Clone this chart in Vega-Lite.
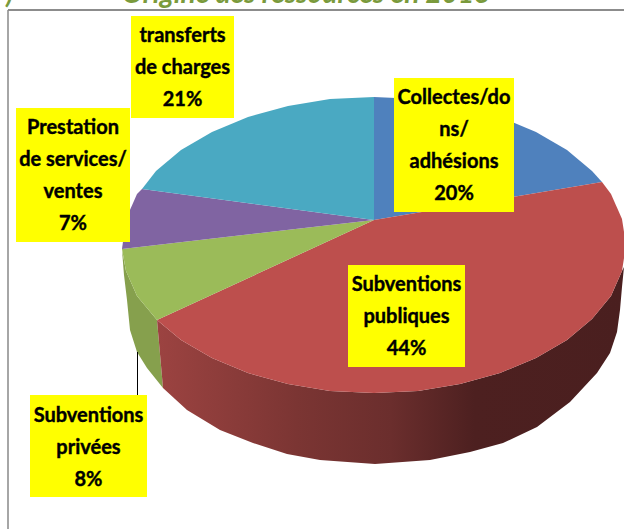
{"$schema":"https://vega.github.io/schema/vega-lite/v6.json","width":624,"height":529,"padding":0,"autosize":"none","background":"#ffffff","config":{"view":{"stroke":null}},
"datasets":{
"walls":[
{"part":"green","x":122,"y":250},{"part":"green","x":124,"y":275},{"part":"green","x":127,"y":300},{"part":"green","x":130,"y":330},{"part":"green","x":137,"y":352},{"part":"green","x":147,"y":368},{"part":"green","x":163,"y":388},{"part":"green","x":157,"y":320},{"part":"green","x":137,"y":296},{"part":"green","x":126,"y":271}],
"redwall":[
{"x":157,"y":320},{"x":163,"y":388},{"x":187,"y":410},{"x":220,"y":430},{"x":253,"y":443},{"x":287,"y":454},{"x":320,"y":460},{"x":375,"y":464},{"x":430,"y":460},{"x":470,"y":452},{"x":503,"y":443},{"x":537,"y":427},{"x":570,"y":402},{"x":597,"y":373},{"x":610,"y":353},{"x":617,"y":332},{"x":620,"y":310},{"x":622,"y":287},{"x":624,"y":267},{"x":622,"y":271},{"x":611,"y":296},{"x":592,"y":319},{"x":567,"y":340},{"x":536,"y":358},{"x":500,"y":373},{"x":460,"y":384},{"x":418,"y":391},{"x":374,"y":393},{"x":330,"y":391},{"x":288,"y":384},{"x":248,"y":373},{"x":212,"y":358},{"x":181,"y":340}],
"faces":[
{"part":"Collectes","x":374,"y":220},{"part":"Collectes","x":374,"y":97},{"part":"Collectes","x":418,"y":99},{"part":"Collectes","x":460,"y":106},{"part":"Collectes","x":500,"y":117},{"part":"Collectes","x":536,"y":132},{"part":"Collectes","x":567,"y":150},{"part":"Collectes","x":592,"y":171},{"part":"Collectes","x":602,"y":182},
{"part":"Publiques","x":374,"y":220},{"part":"Publiques","x":602,"y":182},{"part":"Publiques","x":611,"y":194},{"part":"Publiques","x":622,"y":219},{"part":"Publiques","x":626,"y":245},{"part":"Publiques","x":622,"y":271},{"part":"Publiques","x":611,"y":296},{"part":"Publiques","x":592,"y":319},{"part":"Publiques","x":567,"y":340},{"part":"Publiques","x":536,"y":358},{"part":"Publiques","x":500,"y":373},{"part":"Publiques","x":460,"y":384},{"part":"Publiques","x":418,"y":391},{"part":"Publiques","x":374,"y":393},{"part":"Publiques","x":330,"y":391},{"part":"Publiques","x":288,"y":384},{"part":"Publiques","x":248,"y":373},{"part":"Publiques","x":212,"y":358},{"part":"Publiques","x":181,"y":340},{"part":"Publiques","x":157,"y":320},
{"part":"Privees","x":374,"y":220},{"part":"Privees","x":157,"y":320},{"part":"Privees","x":137,"y":296},{"part":"Privees","x":126,"y":271},{"part":"Privees","x":122,"y":249},
{"part":"Prestation","x":374,"y":220},{"part":"Prestation","x":122,"y":249},{"part":"Prestation","x":126,"y":219},{"part":"Prestation","x":137,"y":194},{"part":"Prestation","x":142,"y":189},
{"part":"Transferts","x":374,"y":220},{"part":"Transferts","x":142,"y":189},{"part":"Transferts","x":156,"y":171},{"part":"Transferts","x":181,"y":150},{"part":"Transferts","x":212,"y":132},{"part":"Transferts","x":248,"y":117},{"part":"Transferts","x":288,"y":106},{"part":"Transferts","x":330,"y":99},{"part":"Transferts","x":374,"y":97}],
"labels":[
{"text":"transferts\nde charges\n21%","x1":131,"x2":234,"y1":16,"y2":118,"cx":182.5,"ty":36},
{"text":"Prestation\nde services/\nventes\n7%","x1":16,"x2":130,"y1":108,"y2":242,"cx":73,"ty":128},
{"text":"Collectes/do\nns/\nadhésions\n20%","x1":394,"x2":514,"y1":78,"y2":212,"cx":454,"ty":98},
{"text":"Subventions\nprivées\n8%","x1":30,"x2":147,"y1":395,"y2":497,"cx":88.5,"ty":416},
{"text":"Subventions\npubliques\n44%","x1":348,"x2":465,"y1":265,"y2":367,"cx":406.5,"ty":285}],
"title":[{"text":"Origine des ressources en 2013","x":122,"y":3},{"text":")","x":6,"y":3}]
},
"layer":[
{"data":{"values":[{"x":8,"y":10,"y2":529}]},"mark":{"type":"rule","color":"#a6a6a6","strokeWidth":2},"encoding":{"x":{"field":"x","type":"quantitative","scale":{"domain":[0,624],"nice":false,"zero":false},"axis":null},"y":{"field":"y","type":"quantitative","scale":{"domain":[529,0],"nice":false,"zero":false},"axis":null},"y2":{"field":"y2"}}},
{"data":{"values":[{"x":8,"x2":624,"y":10}]},"mark":{"type":"rule","color":"#8c8c8c","strokeWidth":2},"encoding":{"x":{"field":"x","type":"quantitative","axis":null},"x2":{"field":"x2"},"y":{"field":"y","type":"quantitative","axis":null}}},
{"data":{"name":"walls"},"mark":{"type":"line","filled":true,"fill":"#86a04d","strokeWidth":0,"clip":true},"encoding":{"x":{"field":"x","type":"quantitative","axis":null},"y":{"field":"y","type":"quantitative","axis":null},"order":{"value":null}}},
{"data":{"name":"redwall"},"mark":{"type":"line","filled":true,"strokeWidth":0,"clip":true,"fill":{"gradient":"linear","x1":0,"x2":1,"y1":0,"y2":0,"stops":[{"offset":0,"color":"#9c4341"},{"offset":0.3,"color":"#7b3533"},{"offset":0.5,"color":"#6b2e2d"},{"offset":0.68,"color":"#4d2020"},{"offset":1,"color":"#4a1f1f"}]}},"encoding":{"x":{"field":"x","type":"quantitative","axis":null},"y":{"field":"y","type":"quantitative","axis":null},"order":{"value":null}}},
{"data":{"name":"faces"},"mark":{"type":"line","filled":true,"strokeWidth":0,"clip":true},"encoding":{"x":{"field":"x","type":"quantitative","axis":null},"y":{"field":"y","type":"quantitative","axis":null},"order":{"value":null},"fill":{"field":"part","type":"nominal","legend":null,"scale":{"domain":["Collectes","Publiques","Privees","Prestation","Transferts"],"range":["#4f81bd","#bd4f4d","#9bbb59","#8064a2","#4aa9c2"]}}}},
{"data":{"values":[{"x":137.5,"y":352,"y2":395}]},"mark":{"type":"rule","color":"#000000","strokeWidth":1},"encoding":{"x":{"field":"x","type":"quantitative","axis":null},"y":{"field":"y","type":"quantitative","axis":null},"y2":{"field":"y2"}}},
{"data":{"name":"labels"},"mark":{"type":"rect","color":"#ffff00"},"encoding":{"x":{"field":"x1","type":"quantitative","axis":null},"x2":{"field":"x2"},"y":{"field":"y1","type":"quantitative","axis":null},"y2":{"field":"y2"}}},
{"data":{"name":"labels"},"mark":{"type":"text","font":"Lato","fontWeight":"bold","fontSize":20,"color":"#000000","stroke":"#000000","strokeWidth":0.4,"lineBreak":"\n","lineHeight":32,"align":"center","baseline":"middle"},"encoding":{"x":{"field":"cx","type":"quantitative","axis":null},"y":{"field":"ty","type":"quantitative","axis":null},"text":{"field":"text"}}},
{"data":{"name":"title"},"mark":{"type":"text","font":"Lato","fontWeight":"bold","fontStyle":"italic","fontSize":28,"color":"#7a9a3c","align":"left","baseline":"alphabetic"},"encoding":{"x":{"field":"x","type":"quantitative","axis":null},"y":{"field":"y","type":"quantitative","axis":null},"text":{"field":"text"}}}
]}
